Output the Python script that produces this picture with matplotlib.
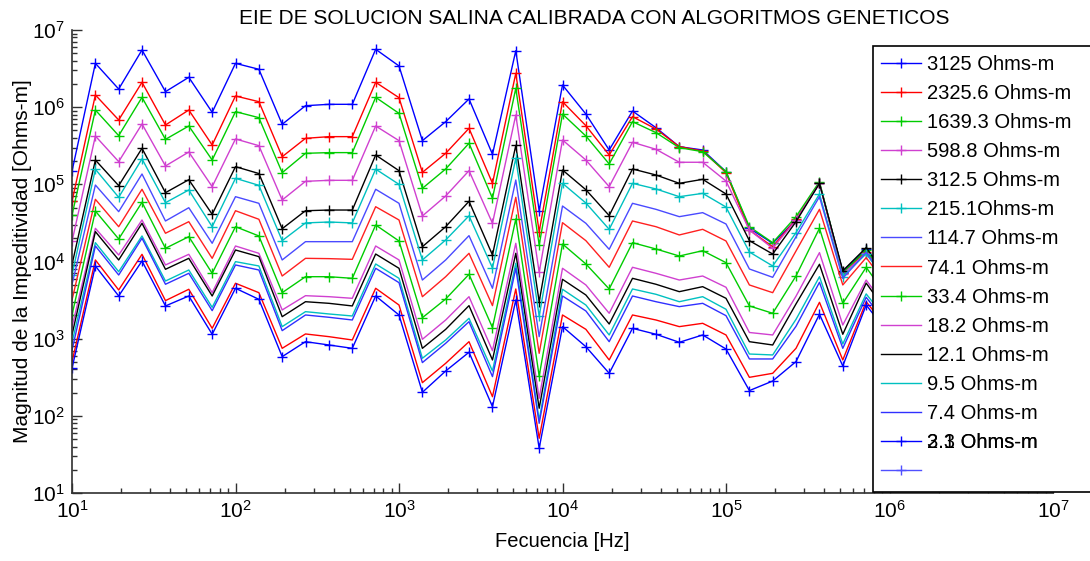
import numpy as np
import matplotlib
matplotlib.use('Agg')
import matplotlib.pyplot as plt
from matplotlib.lines import Line2D
from matplotlib.patches import Rectangle
from matplotlib.ticker import LogLocator, NullFormatter

# ---------------- data (log10 of impeditivity magnitude) ----------------
freq_hz = [10, 13.9, 19.3, 26.8, 37.3, 51.8, 72, 100, 139, 193, 268, 373, 518, 720,
           1000, 1390, 1930, 2680, 3730, 5180, 7200, 10000, 13900, 19300, 26800,
           37300, 51800, 72000, 100000, 139000, 193000, 268000, 373000, 518000,
           720000, 1000000]

log_3125 = [5.17, 6.568, 6.235, 6.741, 6.201, 6.387, 5.933, 6.568, 6.491, 5.778, 6.019, 6.037,
            6.037, 6.750, 6.534, 5.566, 5.812, 6.106, 5.389, 6.732, 4.658, 6.287, 5.911, 5.445,
            5.950, 5.734, 5.488, 5.445, 5.164, 4.430, 4.236, 4.538, 5.013, 3.868, 4.158, 3.75]
log_2325_6 = [4.78, 6.158, 5.834, 6.322, 5.769, 5.963, 5.510, 6.145, 6.071, 5.358, 5.596, 5.618,
              5.618, 6.322, 6.123, 5.155, 5.402, 5.726, 5.013, 6.439, 4.387, 6.071, 5.760, 5.380,
              5.877, 5.717, 5.488, 5.432, 5.151, 4.408, 4.192, 4.547, 5.013, 3.847, 4.127, 3.72]
log_1639_3 = [4.60, 5.963, 5.631, 6.127, 5.583, 5.756, 5.315, 5.942, 5.864, 5.151, 5.402, 5.411,
              5.411, 6.127, 5.920, 4.948, 5.199, 5.532, 4.819, 6.244, 4.214, 5.911, 5.626, 5.264,
              5.812, 5.670, 5.475, 5.423, 5.164, 4.451, 4.244, 4.581, 5.035, 3.855, 4.150, 3.74]
log_598_8 = [4.26, 5.626, 5.294, 5.782, 5.238, 5.419, 4.970, 5.588, 5.501, 4.797, 5.039, 5.052,
             5.052, 5.756, 5.566, 4.590, 4.849, 5.177, 4.495, 5.899, 3.860, 5.575, 5.315, 4.970,
             5.545, 5.454, 5.286, 5.286, 5.043, 4.408, 4.171, 4.538, 5.013, 3.838, 4.106, 3.70]
log_312_5 = [3.96, 5.315, 4.983, 5.467, 4.892, 5.060, 4.612, 5.229, 5.140, 4.425, 4.658, 4.667,
             4.667, 5.380, 5.177, 4.192, 4.451, 4.780, 4.084, 5.505, 3.479, 5.186, 4.930, 4.595,
             5.199, 5.121, 5.013, 5.065, 4.875, 4.270, 4.097, 4.516, 5.013, 3.880, 4.180, 3.76]
log_215_1 = [3.83, 5.195, 4.832, 5.330, 4.762, 4.927, 4.451, 5.078, 4.987, 4.270, 4.500, 4.512,
             4.500, 5.197, 5.000, 4.020, 4.279, 4.592, 3.915, 5.337, 3.294, 5.013, 4.758, 4.417,
             5.013, 4.940, 4.840, 4.883, 4.706, 4.123, 3.942, 4.374, 4.875, 3.803, 4.100, 3.70]
log_114_7 = [3.70, 4.991, 4.646, 5.134, 4.525, 4.697, 4.236, 4.840, 4.754, 4.020, 4.257, 4.257,
             4.257, 4.936, 4.754, 3.760, 4.020, 4.335, 3.653, 5.056, 3.026, 4.719, 4.495, 4.158,
             4.754, 4.676, 4.581, 4.633, 4.486, 3.903, 3.795, 4.320, 4.840, 3.782, 4.120, 3.70]
log_74_1 = [3.50, 4.806, 4.451, 4.936, 4.366, 4.516, 4.041, 4.658, 4.547, 3.812, 4.041, 4.037,
            4.028, 4.710, 4.538, 3.544, 3.803, 4.106, 3.428, 4.832, 2.810, 4.503, 4.270, 3.925,
            4.525, 4.451, 4.344, 4.417, 4.266, 3.696, 3.596, 4.136, 4.676, 3.696, 4.050, 3.65]
log_33_4 = [3.307, 4.654, 4.292, 4.767, 4.171, 4.322, 3.847, 4.451, 4.331, 3.596, 3.803, 3.803,
            3.782, 4.473, 4.266, 3.272, 3.514, 3.834, 3.143, 4.551, 2.516, 4.227, 3.968, 3.644,
            4.244, 4.162, 4.071, 4.140, 3.985, 3.424, 3.329, 3.812, 4.430, 3.458, 3.925, 3.50]
log_18_2 = [3.15, 4.430, 4.084, 4.538, 3.955, 4.093, 3.596, 4.201, 4.106, 3.372, 3.557, 3.544,
            3.523, 4.201, 4.020, 2.992, 3.242, 3.544, 2.844, 4.236, 2.227, 3.912, 3.696, 3.329,
            3.925, 3.847, 3.760, 3.812, 3.666, 3.080, 3.048, 3.550, 4.115, 3.177, 3.760, 3.35]
log_12_1 = [3.05, 4.387, 4.020, 4.495, 3.899, 4.041, 3.553, 4.149, 4.063, 3.285, 3.479, 3.458,
            3.424, 4.097, 3.912, 2.875, 3.121, 3.428, 2.724, 4.106, 2.098, 3.769, 3.566, 3.190,
            3.782, 3.705, 3.609, 3.674, 3.523, 2.961, 2.918, 3.450, 3.964, 3.057, 3.720, 3.30]
log_9_5 = [2.95, 4.244, 3.868, 4.331, 3.747, 3.890, 3.406, 3.998, 3.942, 3.156, 3.350, 3.320,
           3.294, 3.968, 3.782, 2.746, 2.983, 3.264, 2.581, 3.977, 1.946, 3.640, 3.436, 3.048,
           3.644, 3.575, 3.479, 3.544, 3.381, 2.801, 2.789, 3.250, 3.803, 2.931, 3.580, 3.20]
log_7_4 = [2.85, 4.201, 3.825, 4.301, 3.705, 3.847, 3.363, 3.955, 3.890, 3.104, 3.307, 3.277,
           3.242, 3.912, 3.726, 2.690, 2.940, 3.220, 2.508, 3.912, 1.903, 3.553, 3.359, 2.961,
           3.553, 3.479, 3.415, 3.458, 3.298, 2.737, 2.737, 3.160, 3.730, 2.875, 3.536, 3.15]
log_3_1 = [2.70, 4.020, 3.631, 4.093, 3.493, 3.640, 3.134, 3.718, 3.596, 2.875, 3.061, 3.026,
           2.983, 3.653, 3.436, 2.430, 2.681, 2.961, 2.248, 3.644, 1.709, 3.307, 3.121, 2.724,
           3.307, 3.242, 3.156, 3.199, 3.048, 2.499, 2.551, 2.875, 3.471, 2.724, 3.479, 3.10]
log_2_3 = [2.617, 3.942, 3.553, 4.007, 3.424, 3.553, 3.057, 3.653, 3.510, 2.767, 2.961, 2.918,
           2.875, 3.553, 3.307, 2.305, 2.581, 2.824, 2.119, 3.501, 1.580, 3.156, 2.896, 2.551,
           3.134, 3.057, 2.953, 3.048, 2.866, 2.327, 2.451, 2.703, 3.316, 2.646, 3.436, 3.05]

series_labels = ['3125 Ohms-m', '2325.6 Ohms-m', '1639.3 Ohms-m', '598.8 Ohms-m',
                 '312.5 Ohms-m', '215.1Ohms-m', '114.7 Ohms-m', '74.1 Ohms-m',
                 '33.4 Ohms-m', '18.2 Ohms-m', '12.1 Ohms-m', '9.5 Ohms-m',
                 '7.4 Ohms-m', '3.1 Ohms-m', '2.3 Ohms-m']
series_logs = [log_3125, log_2325_6, log_1639_3, log_598_8, log_312_5, log_215_1,
               log_114_7, log_74_1, log_33_4, log_18_2, log_12_1, log_9_5,
               log_7_4, log_3_1, log_2_3]

title_text = 'EIE DE SOLUCION SALINA CALIBRADA CON ALGORITMOS GENETICOS'
xlabel_text = 'Fecuencia [Hz]'
ylabel_text = 'Magnitud de la Impeditividad [Ohms-m]'

# ---------------- styles ----------------
colors = ['#0000ff', '#ff0000', '#00cc00', '#d040d0', '#000000', '#00c0c0',
          '#4a4aff', '#ff2020', '#00cc00', '#d040d0', '#000000', '#00c0c0',
          '#3030ff', '#ff0000', '#0000ff']
markers = ['+', '+', '+', '+', '+', '+', None, None, '+', None, None, None, None, None, '+']

plt.rcParams['font.family'] = ['Liberation Sans', 'DejaVu Sans']
plt.rcParams['mathtext.default'] = 'regular'

W, H = 1090, 561
fig = plt.figure(figsize=(W / 100, H / 100), dpi=100)
ax = fig.add_axes([72 / W, 1 - 493 / H, (1053 - 72) / W, (493 - 30) / H])

lines = []
for logs, c, m, lab in zip(series_logs, colors, markers, series_labels):
    vals = np.power(10.0, np.array(logs))
    ln, = ax.plot(freq_hz, vals, color=c, lw=1.0, marker=m, ms=7, mew=1.0, label=lab)
    lines.append(ln)

ax.set_xscale('log')
ax.set_yscale('log')
ax.set_xlim(10, 1e7)
ax.set_ylim(10, 1e7)
ax.xaxis.set_major_locator(LogLocator(base=10, numticks=10))
ax.yaxis.set_major_locator(LogLocator(base=10, numticks=10))
ax.xaxis.set_minor_locator(LogLocator(base=10, subs=np.arange(2, 10), numticks=20))
ax.yaxis.set_minor_locator(LogLocator(base=10, subs=np.arange(2, 10), numticks=20))
ax.xaxis.set_minor_formatter(NullFormatter())
ax.yaxis.set_minor_formatter(NullFormatter())

for s in ['top', 'right']:
    ax.spines[s].set_visible(False)
for s in ['left', 'bottom']:
    ax.spines[s].set_color('#303030')
    ax.spines[s].set_linewidth(1.2)
ax.tick_params(which='major', direction='in', length=7, width=1, colors='#303030',
               labelcolor='black', labelsize=15, pad=5)
ax.tick_params(which='minor', direction='in', length=3.5, width=1, colors='#303030')

fig.text(594 / W, 1 - 18 / H, title_text, fontsize=15, ha='center', va='center')
ax.set_xlabel(xlabel_text, fontsize=14.5, labelpad=7)
ax.set_ylabel(ylabel_text, fontsize=15, labelpad=0)

# legend box (extends past the right edge of the figure)
box = Rectangle((873 / W, 1 - 492 / H), 0.5, (492 - 46) / H, transform=fig.transFigure,
                facecolor='white', edgecolor='black', lw=1.2, zorder=5)
fig.patches.append(box)

extra = Line2D([], [], color='#5050ff', lw=1.0, marker='+', ms=7, mew=1.0)
handles = lines[:13] + [lines[14], extra]
labels = series_labels[:13] + ['2.3 Ohms-m', '']
leg = fig.legend(handles, labels, loc='upper left', bbox_to_anchor=(877 / W, 1 - 51 / H),
                 frameon=False, fontsize=14.5, numpoints=1, handlelength=2.0,
                 handletextpad=0.3, labelspacing=0.5, borderaxespad=0, borderpad=0.2)
leg.set_zorder(6)

fig.canvas.draw()
t = leg.get_texts()[13]
bb = t.get_window_extent()
fig.text(bb.x0 / W, bb.y0 / H, '3.1 Ohms-m', fontsize=14.5, ha='left', va='bottom', zorder=7)

fig.savefig('out.png', dpi=100)
